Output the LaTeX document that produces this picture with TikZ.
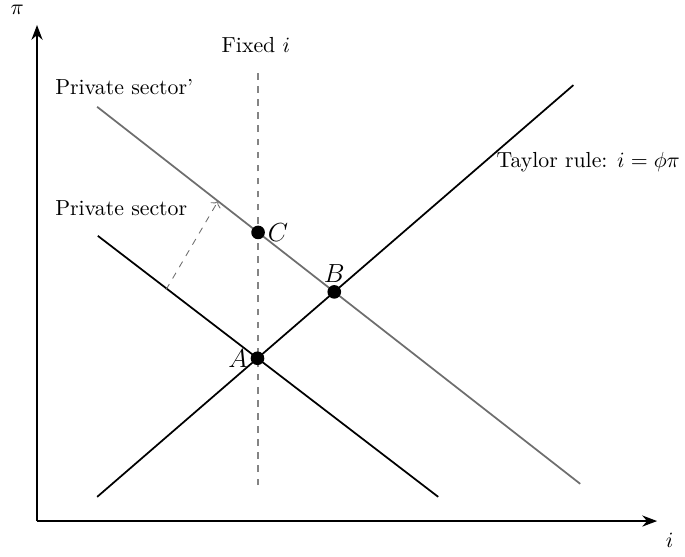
\documentclass[tikz,border=0pt]{standalone}
\usepackage{amsmath,amssymb}
\usepackage{tikz}
\usetikzlibrary{arrows.meta,positioning,calc,intersections}
\usepackage{xcolor}
\definecolor{ink}{RGB}{0,0,0}
\definecolor{moved}{RGB}{110,110,110}
\tikzset{
  axis/.style={-{Stealth[length=2.4mm]},thick,ink},
  curve/.style={thick,ink},
  fixed/.style={thick,dashed,draw=moved!85},
  pt/.style={circle,fill=ink,inner sep=0pt,minimum size=2.2mm},
  lbl/.style={font=\normalsize,text=ink},
  ptlbl/.style={font=\large,text=ink,inner sep=1pt},
}

\begin{document}
\begin{tikzpicture}
  \useasboundingbox (-0.597,-0.565) rectangle (10.45,8.403);
  % axes
  \coordinate (o) at (0,0);
  \coordinate (ytop) at (0,8);
  \coordinate (xend) at (10,0);
  \draw[axis] (o) -- (ytop);
  \draw[axis] (o) -- (xend);
  \node[lbl] (pilab) at (-0.32,8.24) {$\pi$};
  \node[lbl] (ilab) at (10.2,-0.31) {$i$};
  % fixed i
  \coordinate (f0) at (3.565,0.58);
  \coordinate (f1) at (3.565,7.27);
  \draw[fixed,name path=fix] (f0) -- (f1);
  \node[lbl] (fixlab) at (3.53,7.68) {Fixed $i$};
  % taylor rule
  \coordinate (t0) at (0.97,0.39);
  \coordinate (t1) at (8.65,7.03);
  \draw[curve,name path=tay] (t0) -- (t1);
  \node[lbl] (taylab) at (8.89,5.79) {Taylor rule: $i=\phi\pi$};
  % private sector
  \coordinate (p0) at (0.98,4.6);
  \coordinate (p1) at (6.47,0.39);
  \draw[curve,name path=ps] (p0) -- (p1);
  \node[lbl,anchor=west] (pslab) at (0.17,5.05) {Private sector};
  % private sector'
  \coordinate (q0) at (0.97,6.68);
  \coordinate (q1) at (8.76,0.6);
  \draw[curve,draw=moved,name path=ps2] (q0) -- (q1);
  \node[lbl,anchor=west] (ps2lab) at (0.17,7.0) {Private sector'};
  % shift arrow
  \coordinate (s0) at (2.08,3.73);
  \coordinate (s1) at (2.92,5.16);
  \draw[->,dashed,draw=moved] (s0) -- (s1);
  % equilibria
  \path[name intersections={of=tay and ps,by=a}];
  \path[name intersections={of=tay and ps2,by=b}];
  \path[name intersections={of=fix and ps2,by=c}];
  \node[pt] (A) at (a) {};
  \node[pt] (B) at (b) {};
  \node[pt] (C) at (c) {};
  \node[ptlbl,left=0pt of A] {$A$};
  \node[ptlbl,above=0pt of B] {$B$};
  \node[ptlbl,right=0pt of C] {$C$};
\end{tikzpicture}
\end{document}
